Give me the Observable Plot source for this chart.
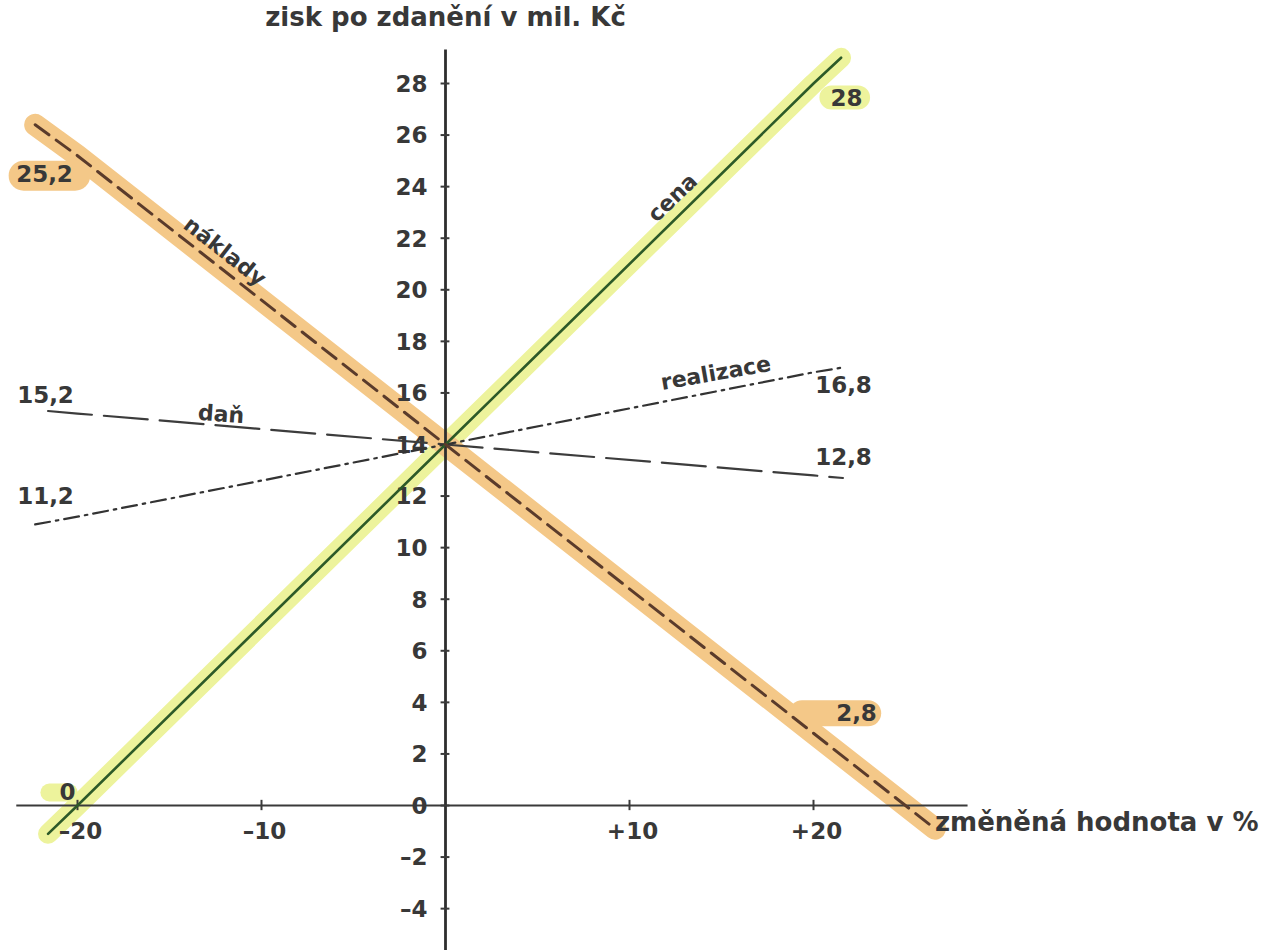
<!DOCTYPE html>
<html>
<head>
<meta charset="utf-8">
<script src="https://cdn.jsdelivr.net/npm/d3@7"></script>
<script src="https://cdn.jsdelivr.net/npm/@observablehq/plot@0.6"></script>
<style>
  html, body { margin: 0; padding: 0; background: #ffffff; }
  #chart svg { display: block; }
</style>
</head>
<body>
<div id="chart"></div>
<script>
// ---- data (x = změněná hodnota v %, y = zisk v mil. Kč) ----
const cenaX = [-21.6, -20, 0, 20, 21.5];
const cenaY = [-1.1, 0, 14, 28, 29.0];
const nakladyX = [-22.3, -20, 0, 20, 26.6];
const nakladyY = [26.4, 25.2, 14, 2.8, -0.9];
const danX = [-21.6, -20, 0, 20, 21.6];
const danY = [15.3, 15.2, 14, 12.8, 12.7];
const realizaceX = [-22.3, -20, 0, 20, 21.7];
const realizaceY = [10.9, 11.2, 14, 16.8, 17.0];

const xTicks = [-20, -10, 10, 20];
const xTickLabels = ["–20", "–10", "+10", "+20"];
const yTicks = [-4, -2, 0, 2, 4, 6, 8, 10, 12, 14, 16, 18, 20, 22, 24, 26, 28];
const yTickLabels = yTicks.map(d => d < 0 ? "–" + Math.abs(d) : String(d));

const yTitle = "zisk po zdanění v mil. Kč";
const xTitle = "změněná hodnota v %";

// end values written next to the lines
const valueX = [-20, 20, 20, -20, -20, -20, 20, 20];
const valueY = [25.2, 28, 2.8, 0, 15.2, 11.2, 16.8, 12.8];
const valueText = ["25,2", "28", "2,8", "0", "15,2", "11,2", "16,8", "12,8"];

// series names
const seriesNames = ["náklady", "cena", "daň", "realizace"];
const seriesNameX = [-12, 13, -12.2, 14.8];
const seriesNameY = [20.7, 23.1, 14.7, 16.1];

// ---- layout / styling (kept apart from the data) ----
const YELLOW = "#edf39c";
const ORANGE = "#f4c888";
const INK = "#383838";
// per value label: [dx, dy, highlight, blob from, blob to (x units from point), blob dy, blob thickness]
const valueLayout = [
  [-33, 19, ORANGE, -2.9, -0.1, 20, 30],
  [33, 15, YELLOW, 1.0, 2.45, 14, 24],
  [43, -20, ORANGE, -0.6, 3.0, -20, 26],
  [-10, -13, YELLOW, -1.5, -0.45, -13, 18],
  [-32, -18], [-32, -20], [30, 13], [30, -18]
];
const nameLayout = [[38, 0, -20], [-44, -12, -12], [4, 0, -12], [-10, -2, -17]]; // rotate, dx, dy

const zip = (xs, ys) => xs.map((x, i) => ({x, y: ys[i]}));
const cena = zip(cenaX, cenaY);
const naklady = zip(nakladyX, nakladyY);
const dan = zip(danX, danY);
const realizace = zip(realizaceX, realizaceY);
const values = valueX.map((x, i) => ({x, y: valueY[i], text: valueText[i], L: valueLayout[i]}));
const names = seriesNames.map((name, i) => ({name, x: seriesNameX[i], y: seriesNameY[i], L: nameLayout[i]}));

const plot = Plot.plot({
  width: 1269,
  height: 950,
  margin: 0,
  x: {domain: [-20, 20], range: [77, 813], axis: null},
  y: {domain: [0, 28], range: [805, 83], axis: null},
  style: {fontFamily: "DejaVu Sans", fontSize: "23px", background: "#ffffff", color: INK},
  marks: [
    // highlighter strokes
    Plot.line(cena, {x: "x", y: "y", stroke: YELLOW, strokeWidth: 20, strokeLinecap: "round"}),
    Plot.line(naklady, {x: "x", y: "y", stroke: ORANGE, strokeWidth: 22, strokeLinecap: "round"}),
    // marker blobs behind the highlighted value labels
    ...values.filter(d => d.L.length > 2).map(d => Plot.ruleY([d], {
      y: "y", x1: v => v.x + v.L[3], x2: v => v.x + v.L[4], dy: d.L[5],
      stroke: d.L[2], strokeWidth: d.L[6], strokeLinecap: "round"
    })),
    // axes
    Plot.ruleY([0], {x1: -23.3, x2: 28.4, stroke: "#3a3a3a", strokeWidth: 2.2}),
    Plot.ruleX([0], {y1: -5.8, y2: 29.3, stroke: "#2e2e2e", strokeWidth: 2.8}),
    Plot.ruleX(xTicks, {x: d => d, y1: -0.2, y2: 0.2, stroke: "#3a3a3a", strokeWidth: 2}),
    Plot.ruleY(yTicks, {y: d => d, x1: -0.24, x2: 0.24, stroke: "#3a3a3a", strokeWidth: 2}),
    Plot.text(yTicks, {x: 0, y: d => d, text: (d, i) => yTickLabels[i], textAnchor: "end", dx: -18, dy: 1, fontWeight: "bold", fill: INK}),
    Plot.text(xTicks, {x: d => d, y: 0, text: (d, i) => xTickLabels[i], dy: 26, dx: 3, fontWeight: "bold", fill: INK}),
    // series lines
    Plot.line(dan, {x: "x", y: "y", stroke: "#3c3c3c", strokeWidth: 2.2, strokeDasharray: "44,12"}),
    Plot.line(realizace, {x: "x", y: "y", stroke: "#333", strokeWidth: 2.2, strokeDasharray: "15,6,2.5,6"}),
    Plot.line(cena, {x: "x", y: "y", stroke: "#2d5a28", strokeWidth: 2.6}),
    Plot.line(naklady, {x: "x", y: "y", stroke: "#5a3b2b", strokeWidth: 3, strokeDasharray: "17,9"}),
    // value labels
    ...values.map(d => Plot.text([d], {
      x: "x", y: "y", text: "text", dx: d.L[0], dy: d.L[1], fill: INK, fontWeight: "bold"
    })),
    // series names
    ...names.map(s => Plot.text([s], {
      x: "x", y: "y", text: "name", rotate: s.L[0], dx: s.L[1], dy: s.L[2],
      fill: INK, fontWeight: "bold", fontSize: 22
    })),
    // axis titles
    Plot.text([yTitle], {x: 0, frameAnchor: "top", lineAnchor: "top", dy: 7, text: d => d, fontSize: 26, fontWeight: "bold", fill: INK}),
    Plot.text([xTitle], {y: 0, frameAnchor: "right", textAnchor: "end", dx: -11, dy: 17, text: d => d, fontSize: 26, fontWeight: "bold", fill: INK})
  ]
});
document.getElementById("chart").appendChild(plot);
</script>
</body>
</html>
